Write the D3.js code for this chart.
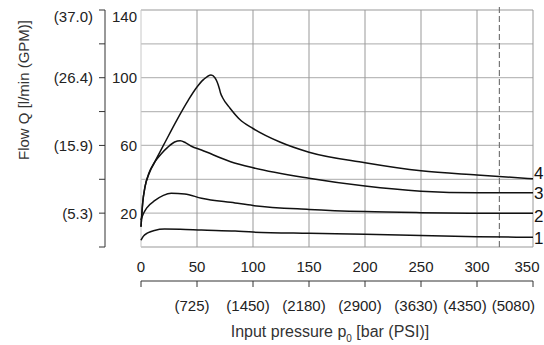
<!DOCTYPE html>
<html>
<head>
<meta charset="utf-8">
<script src="https://cdn.jsdelivr.net/npm/d3@7"></script>
<style>
  body { margin: 0; background: #fff; }
  text { font-family: "Liberation Sans", Arial, sans-serif; fill: #222; }
</style>
</head>
<body>
<svg id="chart"></svg>
<script>
// curves: input pressure (bar) and flow (l/min)
const curve1P = [0, 2, 6, 12, 21, 35, 54, 84, 100, 150, 200, 250, 300, 350];
const curve1Q = [4, 6.3, 8.3, 9.8, 10.6, 10.5, 10, 9.4, 8.8, 8.1, 7.6, 6.8, 6.1, 5.7];

const curve2P = [0, 2, 5, 12.5, 20, 27, 39, 54, 84, 100, 150, 200, 250, 300, 350];
const curve2Q = [16, 19.5, 23, 27.5, 30.5, 31.7, 31.3, 28.8, 26, 24.5, 22.2, 20.9, 20.3, 20, 20];

const curve3P = [0, 1.5, 3.6, 7, 12.5, 18, 24, 30, 35, 40, 45, 54, 80, 100, 150, 200, 250, 300, 350];
const curve3Q = [12, 26, 35.6, 43, 50.4, 55, 59, 62, 62.8, 61.5, 59.5, 57.3, 50.4, 46.8, 40.6, 36, 33, 32, 32];

const curve4P = [0, 1.5, 3.6, 7, 12.5, 20, 32, 42, 50, 56, 62.5, 66, 68, 70, 71, 73, 79.5, 88, 100, 124, 150, 200, 250, 300, 350];
const curve4Q = [12, 26, 35.6, 43.5, 50.6, 60, 75, 86.5, 94.5, 99, 101.6, 100, 97.5, 93.5, 91, 88, 82, 75.5, 70, 62, 56, 49.8, 45, 42.5, 40.3];

const curveNames = ['1', '2', '3', '4'];

const barTicks = [0, 50, 100, 150, 200, 250, 300, 350];
const psiLabels = ['', '(725)', '(1450)', '(2180)', '(2900)', '(3630)', '(4350)', '(5080)'];
const flowTicks = [0, 20, 40, 60, 80, 100, 120, 140];
const lpmLabeled = [20, 60, 100, 140];
const gpmLabels = ['(5.3)', '(15.9)', '(26.4)', '(37.0)'];
const limitPressure = 320;

const width = 544, height = 345;

const svg = d3.select('#chart')
    .attr('width', width)
    .attr('height', height);

const x = d3.scaleLinear().domain([0, 350]).range([141, 533]);
const y = d3.scaleLinear().domain([0, 140]).range([247, 10]);

// grid
svg.append('g')
    .selectAll('line')
    .data(flowTicks)
    .join('line')
    .attr('x1', x(0)).attr('x2', x(350))
    .attr('y1', d => y(d)).attr('y2', d => y(d))
    .attr('stroke', '#bbb')
    .attr('stroke-width', 1.3);

svg.append('g')
    .selectAll('line')
    .data(barTicks)
    .join('line')
    .attr('x1', d => x(d)).attr('x2', d => x(d))
    .attr('y1', y(0)).attr('y2', y(140))
    .attr('stroke', d => d === 0 ? '#c8c8c8' : '#999')
    .attr('stroke-width', 1);

// dashed limit
svg.append('line')
    .attr('x1', x(limitPressure)).attr('x2', x(limitPressure))
    .attr('y1', 7).attr('y2', y(0))
    .attr('stroke', '#777')
    .attr('stroke-width', 1.2)
    .attr('stroke-dasharray', '6,3');

// curves
const curves = [
    {p: curve1P, q: curve1Q},
    {p: curve2P, q: curve2Q},
    {p: curve3P, q: curve3Q},
    {p: curve4P, q: curve4Q}
];

const line = d3.line()
    .x(d => x(d[0]))
    .y(d => y(d[1]))
    .curve(d3.curveMonotoneX);

svg.append('g')
    .selectAll('path')
    .data(curves)
    .join('path')
    .attr('d', c => line(c.p.map((p, i) => [p, c.q[i]])))
    .attr('fill', 'none')
    .attr('stroke', '#111')
    .attr('stroke-width', 1.5);

// end labels, nudged apart like the print
const labelShift = [7, 9, 6, 0];
svg.append('g')
    .selectAll('text')
    .data(curves)
    .join('text')
    .attr('x', x(350) + 1)
    .attr('y', (c, i) => y(c.q[c.q.length - 1]) + labelShift[i])
    .style('font-size', '17px')
    .style('fill', '#111')
    .text((c, i) => curveNames[i]);

// left axis
const axisX = 105;
const left = svg.append('g');
left.append('line')
    .attr('x1', axisX).attr('x2', axisX)
    .attr('y1', y(140)).attr('y2', y(0))
    .attr('stroke', '#333');
left.selectAll('.tk')
    .data(flowTicks)
    .join('line')
    .attr('class', 'tk')
    .attr('x1', axisX - 6).attr('x2', axisX)
    .attr('y1', d => y(d)).attr('y2', d => y(d))
    .attr('stroke', '#333');
left.selectAll('.lpm')
    .data(lpmLabeled)
    .join('text')
    .attr('class', 'lpm')
    .attr('x', 137)
    .attr('y', d => d === 140 ? y(d) + 12 : y(d) + 5.5)
    .attr('text-anchor', 'end')
    .style('font-size', '15px')
    .text(d => d);
left.selectAll('.gpm')
    .data(lpmLabeled)
    .join('text')
    .attr('class', 'gpm')
    .attr('x', 93)
    .attr('y', d => d === 140 ? y(d) + 12 : y(d) + 5.5)
    .attr('text-anchor', 'end')
    .style('font-size', '15px')
    .text((d, i) => gpmLabels[i]);

svg.append('text')
    .attr('transform', 'translate(29,90) rotate(-90)')
    .attr('text-anchor', 'middle')
    .style('font-size', '15px')
    .style('fill', '#333')
    .text('Flow Q [l/min (GPM)]');

// bottom axis
svg.append('g')
    .selectAll('text')
    .data(barTicks)
    .join('text')
    .attr('x', d => d === 350 ? x(d) - 6 : x(d))
    .attr('y', 272)
    .attr('text-anchor', 'middle')
    .style('font-size', '15px')
    .text(d => d);

const bottom = svg.append('g');
bottom.append('line')
    .attr('x1', x(0)).attr('x2', x(350))
    .attr('y1', 281).attr('y2', 281)
    .attr('stroke', '#333');
bottom.selectAll('.tk')
    .data(barTicks)
    .join('line')
    .attr('class', 'tk')
    .attr('x1', d => x(d)).attr('x2', d => x(d))
    .attr('y1', 281).attr('y2', 287)
    .attr('stroke', '#333');
bottom.selectAll('.psi')
    .data(barTicks)
    .join('text')
    .attr('class', 'psi')
    .attr('x', d => d === 350 ? x(d) + 2 : (d === 300 ? x(d) - 12 : x(d) - 5))
    .attr('y', 311)
    .attr('text-anchor', d => d === 350 ? 'end' : 'middle')
    .style('font-size', '15px')
    .text((d, i) => psiLabels[i]);

const xt = svg.append('text')
    .attr('x', 330)
    .attr('y', 337)
    .attr('text-anchor', 'middle')
    .style('font-size', '16px')
    .style('fill', '#333');
xt.append('tspan').text('Input pressure p');
xt.append('tspan').attr('dy', 5).style('font-size', '10px').text('0');
xt.append('tspan').attr('dy', -5).text(' [bar (PSI)]');
</script>
</body>
</html>
